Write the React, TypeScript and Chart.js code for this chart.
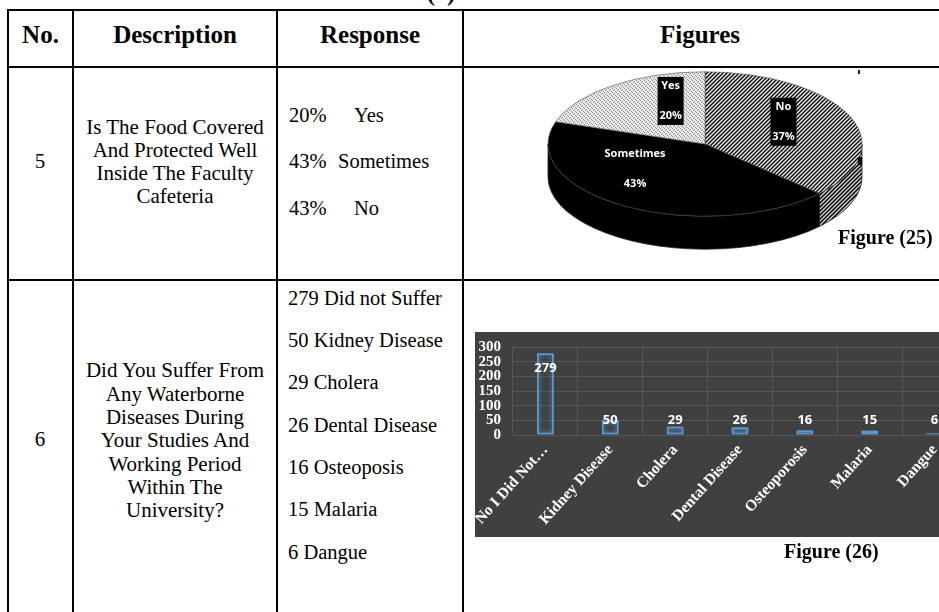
import React, { useEffect, useRef } from "react";
import { Chart, registerables } from "chart.js";

Chart.register(...registerables);

// ---- table content ----
const headers = ["No.", "Description", "Response", "Figures"];
const desc5 = ["Is The Food Covered", "And Protected Well", "Inside The Faculty", "Cafeteria"];
const resp5Pct = ["20%", "43%", "43%"];
const resp5Txt = ["Yes", "Sometimes", "No"];
const desc6 = [
  "Did You Suffer From",
  "Any Waterborne",
  "Diseases During",
  "Your Studies And",
  "Working Period",
  "Within The",
  "University?",
];
const resp6 = [
  "279 Did not Suffer",
  "50 Kidney Disease",
  "29 Cholera",
  "26 Dental Disease",
  "16 Osteoposis",
  "15 Malaria",
  "6 Dangue",
];

// ---- Figure (25): food covered pie ----
const pieLabels = ["No", "Sometimes", "Yes"];
const pieValues = [37, 43, 20];

// ---- Figure (26): waterborne diseases bar ----
const diseaseLabels = [
  "No I Did Not\u2026",
  "Kidney Disease",
  "Cholera",
  "Dental Disease",
  "Osteoporosis",
  "Malaria",
  "Dangue",
];
const diseaseCounts = [279, 50, 29, 26, 16, 15, 6];
const countAxisMax = 300;
const countAxisStep = 50;

const SERIF = '"Liberation Serif", "Times New Roman", serif';
const SANS = '"Open Sans", "Liberation Sans", sans-serif';

function T(props: {
  x: number;
  y: number;
  size?: number;
  bold?: boolean;
  center?: boolean;
  children: React.ReactNode;
}) {
  const size = props.size ?? 20.5;
  const style: React.CSSProperties = {
    position: "absolute",
    top: props.y - 0.8375 * size,
    left: props.x,
    fontSize: size,
    lineHeight: `${size}px`,
    fontWeight: props.bold ? "bold" : "normal",
    whiteSpace: "pre",
    fontFamily: SERIF,
    color: "#000",
  };
  if (props.center) style.transform = "translateX(-50%)";
  return <div style={style}>{props.children}</div>;
}

function HLine({ y, x1, x2 }: { y: number; x1: number; x2: number }) {
  return (
    <div style={{ position: "absolute", left: x1, top: y - 1, width: x2 - x1, height: 2, background: "#000" }} />
  );
}
function VLine({ x, y1, y2 }: { x: number; y1: number; y2: number }) {
  return (
    <div style={{ position: "absolute", left: x - 1, top: y1, width: 2, height: y2 - y1, background: "#000" }} />
  );
}

function makeHatch(squash: number, bg: string) {
  const s = 4;
  const c = document.createElement("canvas");
  c.width = s;
  c.height = s;
  const g = c.getContext("2d")!;
  g.fillStyle = bg;
  g.fillRect(0, 0, s, s);
  g.strokeStyle = "#000";
  g.lineWidth = 1.5;
  g.beginPath();
  g.moveTo(-1, 1);
  g.lineTo(1, -1);
  g.moveTo(0, s);
  g.lineTo(s, 0);
  g.moveTo(s - 1, s + 1);
  g.lineTo(s + 1, s - 1);
  g.stroke();
  const p = g.createPattern(c, "repeat")!;
  p.setTransform(new DOMMatrix([1, 0, 0, 1 / squash, 0, 0]));
  return p;
}

function makeDots(squash: number) {
  const s = 4;
  const c = document.createElement("canvas");
  c.width = s;
  c.height = s;
  const g = c.getContext("2d")!;
  g.fillStyle = "#ececec";
  g.fillRect(0, 0, s, s);
  g.fillStyle = "#8a8a8a";
  [[0, 0], [2, 1], [1, 2], [3, 3]].forEach(([x, y]) => g.fillRect(x, y, 1, 1));
  const p = g.createPattern(c, "repeat")!;
  p.setTransform(new DOMMatrix([1, 0, 0, 1 / squash, 0, 0]));
  return p;
}

function PieFigure() {
  const ref = useRef<HTMLCanvasElement>(null);
  useEffect(() => {
    const SQUASH = 0.46;
    const FACE_Y = 77;
    const DEPTH = 33;
    const R = 157;
    const sideFill: any[] = [makeHatch(1, "#d6d6d6"), "#000", null];
    // label anchors: fraction of radius plus a small shift (px)
    const labelShift: [number, number][] = [
      [-8, -5],
      [-22, -12],
      [21, -8],
    ];
    const boxed = [true, false, true];

    const pie3d = {
      id: "pie3d",
      beforeDatasetsDraw(chart: any) {
        const ctx: CanvasRenderingContext2D = chart.ctx;
        const arcs = chart.getDatasetMeta(0).data as any[];
        const cx = arcs[0].x;
        const cy = arcs[0].y;
        const r = arcs[0].outerRadius;
        const ry = r * SQUASH;
        arcs.forEach((arc, i) => {
          const a1 = Math.max(arc.startAngle, 0);
          const a2 = Math.min(arc.endAngle, Math.PI);
          if (a2 <= a1 || !sideFill[i]) return;
          ctx.beginPath();
          ctx.ellipse(cx, FACE_Y, r, ry, 0, a1, a2, false);
          ctx.lineTo(cx + r * Math.cos(a2), FACE_Y + ry * Math.sin(a2) + DEPTH);
          ctx.ellipse(cx, FACE_Y + DEPTH, r, ry, 0, a2, a1, true);
          ctx.closePath();
          ctx.fillStyle = sideFill[i];
          ctx.fill();
          ctx.strokeStyle = "#222";
          ctx.lineWidth = 0.8;
          ctx.stroke();
        });
        ctx.save();
        ctx.translate(0, FACE_Y);
        ctx.scale(1, SQUASH);
        ctx.translate(0, -cy);
      },
      afterDatasetsDraw(chart: any) {
        const ctx: CanvasRenderingContext2D = chart.ctx;
        ctx.restore();
        const arcs = chart.getDatasetMeta(0).data as any[];
        const total = pieValues.reduce((a, b) => a + b, 0);
        arcs.forEach((arc, i) => {
          const mid = (arc.startAngle + arc.endAngle) / 2;
          const f = 0.6;
          const x = arc.x + arc.outerRadius * f * Math.cos(mid) + labelShift[i][0];
          const y = FACE_Y + arc.outerRadius * SQUASH * f * Math.sin(mid) + labelShift[i][1];
          const pct = Math.round((pieValues[i] / total) * 100) + "%";
          if (boxed[i]) {
            ctx.fillStyle = "#000";
            ctx.fillRect(x - 13, y - 24, 26, 48);
          }
          ctx.fillStyle = "#fff";
          ctx.font = `bold 11px ${SANS}`;
          ctx.textAlign = "center";
          ctx.textBaseline = "middle";
          ctx.fillText(pieLabels[i], x, y - 15);
          ctx.fillText(pct, x, y + 15);
        });
      },
    };

    const chart = new Chart(ref.current!, {
      type: "pie",
      data: {
        labels: pieLabels,
        datasets: [
          {
            data: pieValues,
            backgroundColor: [makeHatch(SQUASH, "#ffffff"), "#000000", makeDots(SQUASH)],
            borderColor: "#555",
            borderWidth: 0.8,
          },
        ],
      },
      options: {
        responsive: false,
        animation: false,
        radius: R,
        events: [],
        layout: { padding: 0 },
        plugins: { legend: { display: false }, tooltip: { enabled: false } },
      } as any,
      plugins: [pie3d],
    });
    return () => chart.destroy();
  }, []);
  return (
    <canvas ref={ref} width={330} height={330} style={{ position: "absolute", left: 540, top: 67 }} />
  );
}

function BarFigure() {
  const ref = useRef<HTMLCanvasElement>(null);
  useEffect(() => {
    const glowAndValues = {
      id: "glowAndValues",
      beforeDatasetsDraw(chart: any) {
        const ctx: CanvasRenderingContext2D = chart.ctx;
        ctx.save();
        ctx.shadowColor = "rgba(90,160,235,0.95)";
        ctx.shadowBlur = 5;
      },
      afterDatasetsDraw(chart: any) {
        const ctx: CanvasRenderingContext2D = chart.ctx;
        ctx.restore();
        const bars = chart.getDatasetMeta(0).data as any[];
        ctx.save();
        ctx.fillStyle = "#ffffff";
        ctx.font = `bold 13px ${SANS}`;
        ctx.textAlign = "center";
        ctx.textBaseline = "middle";
        bars.forEach((bar, i) => {
          const y = Math.min(bar.y + 15, bar.base - 14);
          ctx.fillText(String(diseaseCounts[i]), bar.x, y);
        });
        ctx.restore();
      },
    };

    const chart = new Chart(ref.current!, {
      type: "bar",
      data: {
        labels: diseaseLabels,
        datasets: [
          {
            data: diseaseCounts,
            backgroundColor: "rgba(0,0,0,0)",
            borderColor: "#5b9bd5",
            borderWidth: 1.8,
            borderSkipped: false,
            barPercentage: 0.26,
            categoryPercentage: 1,
          },
        ],
      },
      options: {
        responsive: false,
        animation: false,
        events: [],
        layout: { padding: { top: 15, left: 0, right: 8, bottom: 0 } },
        plugins: { legend: { display: false }, tooltip: { enabled: false } },
        scales: {
          y: {
            min: 0,
            max: countAxisMax,
            ticks: {
              stepSize: countAxisStep,
              autoSkip: false,
              color: "#ffffff",
              padding: 12,
              font: { family: SERIF, weight: "bold", size: 15, lineHeight: 1 },
            },
            grid: { color: "#565656", drawTicks: false },
            border: { display: false },
            afterFit: (s: any) => {
              s.width = 38;
              s.paddingTop = 0;
              s.paddingBottom = 0;
            },
          },
          x: {
            ticks: {
              color: "#ffffff",
              minRotation: 48,
              maxRotation: 48,
              autoSkip: false,
              padding: 6,
              font: { family: SERIF, weight: "bold", size: 15.5 },
            },
            grid: { color: "#565656", drawTicks: false, offset: true },
            border: { display: false },
            afterFit: (s: any) => {
              s.height = 102;
              s.paddingLeft = 0;
              s.paddingRight = 0;
            },
          },
        },
      } as any,
      plugins: [glowAndValues],
    });
    return () => chart.destroy();
  }, []);
  return (
    <canvas
      ref={ref}
      width={500}
      height={205}
      style={{ position: "absolute", left: 475, top: 332, background: "#404040" }}
    />
  );
}

export default function App() {
  const headerX = [40.5, 175, 370, 700];
  const resp5X = [354, 338, 354];
  return (
    <div
      style={{
        position: "absolute",
        left: 0,
        top: 0,
        width: 939,
        height: 612,
        overflow: "hidden",
        background: "#fff",
        fontFamily: SERIF,
      }}
    >
      {/* caption above the table, cut by the page edge */}
      <T x={427} y={1} size={24} bold>
        {"(\u00a0\u00a0)"}
      </T>

      {/* grid lines */}
      <HLine y={10} x1={7} x2={939} />
      <HLine y={67} x1={7} x2={939} />
      <HLine y={280} x1={7} x2={939} />
      <VLine x={8} y1={9} y2={612} />
      <VLine x={73} y1={9} y2={612} />
      <VLine x={277} y1={9} y2={612} />
      <VLine x={463} y1={9} y2={612} />

      {headers.map((h, i) => (
        <T key={h} x={headerX[i]} y={43} size={25} bold center>
          {h}
        </T>
      ))}

      {/* row 5 */}
      <T x={40} y={169} size={21} center>
        5
      </T>
      {desc5.map((t, i) => (
        <T key={t} x={175} y={135 + i * 22.8} size={21} center>
          {t}
        </T>
      ))}
      {resp5Pct.map((p, i) => (
        <React.Fragment key={i}>
          <T x={289} y={122 + i * 46.5}>
            {p}
          </T>
          <T x={resp5X[i]} y={122 + i * 46.5}>
            {resp5Txt[i]}
          </T>
        </React.Fragment>
      ))}
      <PieFigure />
      <div style={{ position: "absolute", left: 858, top: 157, width: 4, height: 8, background: "#000" }} />
      <div style={{ position: "absolute", left: 858, top: 70, width: 2, height: 4, background: "#222" }} />
      <T x={838} y={244} size={20} bold>
        Figure (25)
      </T>

      {/* row 6 */}
      <T x={40} y={447} size={21} center>
        6
      </T>
      {desc6.map((t, i) => (
        <T key={t} x={175} y={378 + i * 23.3} size={21} center>
          {t}
        </T>
      ))}
      {resp6.map((t, i) => (
        <T key={t} x={288} y={305 + i * 42.3}>
          {t}
        </T>
      ))}
      <BarFigure />
      <T x={784} y={558} size={20} bold>
        Figure (26)
      </T>
    </div>
  );
}
